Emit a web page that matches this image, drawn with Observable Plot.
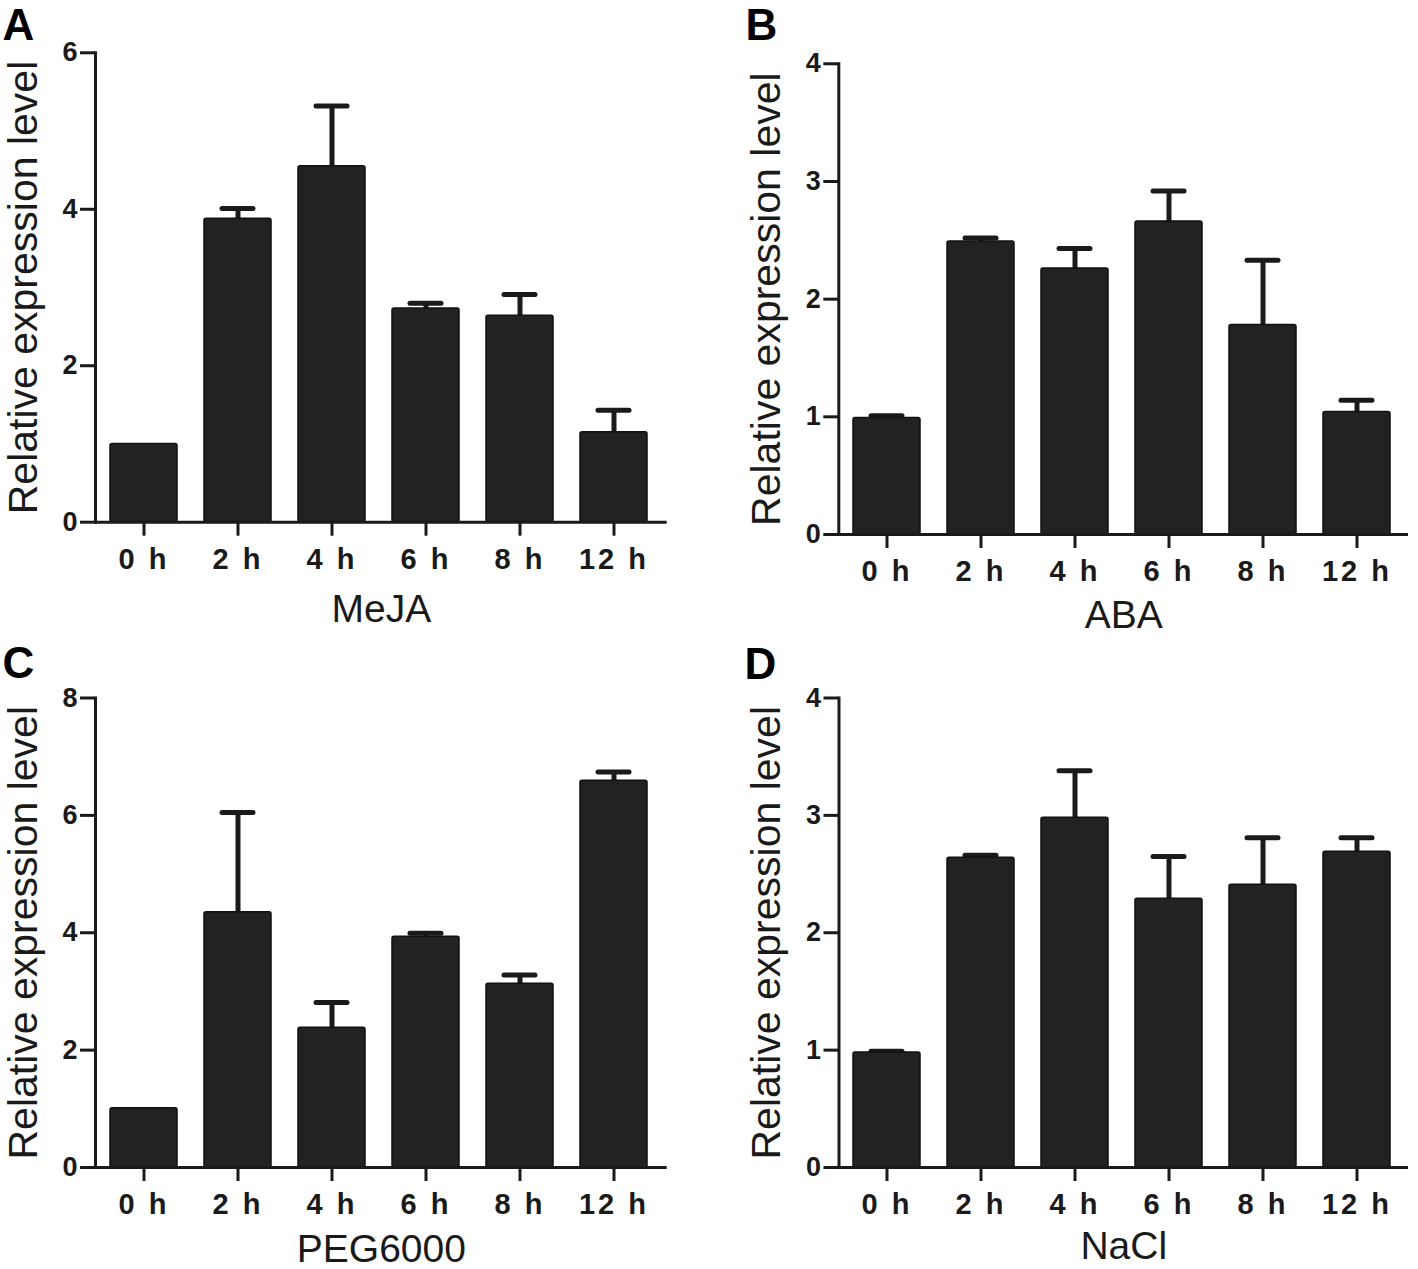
<!DOCTYPE html>
<html><head><meta charset="utf-8">
<script src="https://cdn.jsdelivr.net/npm/d3@7"></script>
<script src="https://cdn.jsdelivr.net/npm/@observablehq/plot@0.6"></script>
<style>
body{margin:0;background:#fff;}
#wrap{position:relative;width:1418px;height:1269px;background:#fff;}
#wrap svg{position:absolute;}
</style></head><body><div id="wrap"></div>
<script>
const times = ["0 h", "2 h", "4 h", "6 h", "8 h", "12 h"];
const mejaMean = [1.00, 3.88, 4.55, 2.73, 2.64, 1.15];
const mejaErr  = [0.00, 0.13, 0.77, 0.07, 0.27, 0.28];
const abaMean  = [0.99, 2.49, 2.26, 2.66, 1.78, 1.04];
const abaErr   = [0.02, 0.03, 0.17, 0.26, 0.55, 0.10];
const pegMean  = [1.01, 4.35, 2.38, 3.93, 3.13, 6.59];
const pegErr   = [0.00, 1.70, 0.43, 0.06, 0.15, 0.15];
const naclMean = [0.98, 2.64, 2.98, 2.29, 2.41, 2.69];
const naclErr  = [0.01, 0.02, 0.40, 0.36, 0.40, 0.12];
const yTicksMeja = [0, 2, 4, 6];
const yTicksAba  = [0, 1, 2, 3, 4];
const yTicksPeg  = [0, 2, 4, 6, 8];
const yTicksNacl = [0, 1, 2, 3, 4];
const panelLetters = ["A", "B", "C", "D"];
const treatments = ["MeJA", "ABA", "PEG6000", "NaCl"];
const yTitle = "Relative expression level";

const FONT = "'Liberation Sans', Arial, Helvetica, sans-serif";
const INK = "#1a1a1a";

const panels = [
  {mean: mejaMean, err: mejaErr, ticks: yTicksMeja, left: 0,   top: 0,   h: 640, mt: 52.3, mb: 118.3, ml: 95,    mr: 42.3, lx: 2,   ly: 8,  xo: 87.5},
  {mean: abaMean,  err: abaErr,  ticks: yTicksAba,  left: 709, top: 0,   h: 640, mt: 63.3, mb: 106,   ml: 129.3, mr: 10,   lx: 36,  ly: 8,  xo: 81},
  {mean: pegMean,  err: pegErr,  ticks: yTicksPeg,  left: 0,   top: 640, h: 629, mt: 57.5, mb: 102,   ml: 95,    mr: 42.3, lx: 2,   ly: 6,  xo: 82},
  {mean: naclMean, err: naclErr, ticks: yTicksNacl, left: 709, top: 640, h: 629, mt: 57.5, mb: 102,   ml: 129.5, mr: 10,   lx: 35,  ly: 7,  xo: 79.5}
];

const wrap = document.getElementById("wrap");
panels.forEach((p, k) => {
  const data = times.map((t, i) => ({t, mean: p.mean[i], err: p.err[i]}));
  const withErr = data.filter(d => d.err > 0);
  const yMax = p.ticks[p.ticks.length - 1];
  const svg = Plot.plot({
    width: 709,
    height: p.h,
    marginTop: p.mt,
    marginBottom: p.mb,
    marginLeft: p.ml,
    marginRight: p.mr,
    style: {fontFamily: FONT, color: INK, background: "transparent", overflow: "visible"},
    x: {domain: times, paddingInner: 0.29, paddingOuter: 0.17, align: 0.44, axis: null},
    y: {domain: [0, yMax], axis: null},
    marks: [
      Plot.ruleX(withErr, {x: "t", y1: "mean", y2: d => d.mean + d.err, stroke: INK, strokeWidth: 5}),
      Plot.tickY(withErr, {x: "t", y: d => d.mean + d.err, stroke: INK, strokeWidth: 5, strokeLinecap: "round", insetLeft: 18, insetRight: 18}),
      Plot.barY(data, {x: "t", y: "mean", fill: "#222222", stroke: "#111111", strokeWidth: 1.5, rx: 2}),
      Plot.axisY({ticks: p.ticks, tickSize: 15, tickPadding: 3, fontSize: 27, fontWeight: "bold", stroke: INK, strokeWidth: 3, fill: INK, label: null, tickFormat: d => String(d)}),
      Plot.axisX({tickSize: 14, tickPadding: 12, fontSize: 29, fontWeight: "bold", stroke: INK, strokeWidth: 3, fill: INK, label: null}),
      Plot.frame({anchor: "left", stroke: INK, strokeWidth: 3}),
      Plot.ruleY([0], {stroke: INK, strokeWidth: 3}),
      Plot.text([yTitle], {frameAnchor: "left", rotate: -90, dx: -72, textAnchor: "middle", lineAnchor: "middle", fontSize: 41, fill: INK}),
      Plot.text([treatments[k]], {frameAnchor: "bottom", dy: p.xo, textAnchor: "middle", lineAnchor: "middle", fontSize: 39, fill: INK}),
      Plot.text([panelLetters[k]], {frameAnchor: "top-left", dx: p.lx - p.ml, dy: p.ly - p.mt, textAnchor: "start", lineAnchor: "top", fontSize: 44, fontWeight: "bold", fill: "#000"})
    ]
  });
  svg.style.left = p.left + "px";
  svg.style.top = p.top + "px";
  svg.querySelectorAll('g[aria-label="y-axis tick label"]').forEach(g => {
    g.setAttribute("font-size", "27"); g.setAttribute("font-weight", "bold");
  });
  svg.querySelectorAll('g[aria-label="x-axis tick label"]').forEach(g => {
    g.setAttribute("font-size", "29"); g.setAttribute("font-weight", "bold");
  });
  svg.querySelectorAll('g[aria-label="x-axis tick label"] text').forEach(t => t.setAttribute("letter-spacing", "3"));
  wrap.appendChild(svg);
});
</script></body></html>
